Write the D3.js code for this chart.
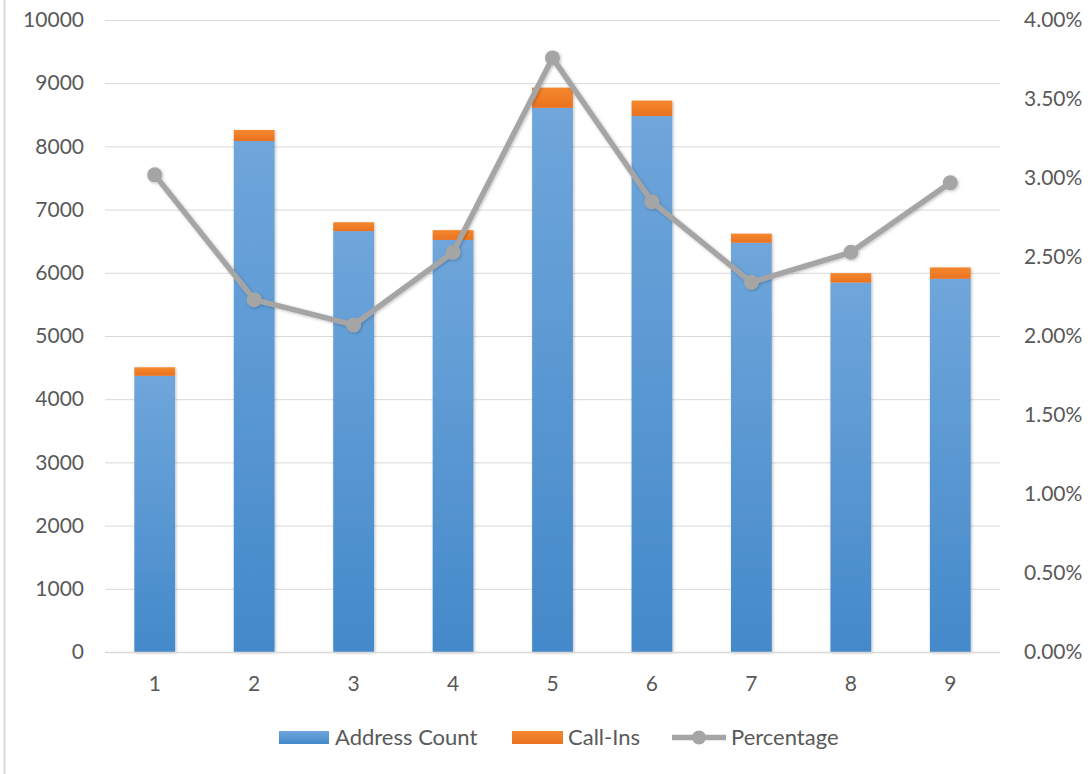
<!DOCTYPE html>
<html><head><meta charset="utf-8">
<script src="https://cdn.jsdelivr.net/npm/d3@7"></script>
<style>
html,body{margin:0;padding:0;background:#fff;}
svg{display:block;font-family:Lato,"Open Sans",sans-serif;}
</style></head>
<body>
<svg id="chart" width="1091" height="774"></svg>
<script>
const categories = ["1","2","3","4","5","6","7","8","9"];
const addressCount = [4370, 8085, 6660, 6520, 8610, 8480, 6475, 5845, 5905];
const callIns = [135, 175, 140, 155, 320, 245, 145, 150, 180];
const percentage = [0.0302, 0.0223, 0.0207, 0.0253, 0.0376, 0.0285, 0.0234, 0.0253, 0.0297];
const leftTicks = [0,1000,2000,3000,4000,5000,6000,7000,8000,9000,10000];
const rightTicks = [0,0.005,0.01,0.015,0.02,0.025,0.03,0.035,0.04];

const svg = d3.select("#chart");
const W = 1091, H = 774;
const m = {left:105, right:91, top:20, bottom:122};
const pw = W - m.left - m.right, ph = H - m.top - m.bottom;
const FONT = "Lato,'Open Sans',sans-serif";

const defs = svg.append("defs");
const grad = defs.append("linearGradient").attr("id","blueGrad").attr("x1",0).attr("y1",0).attr("x2",0).attr("y2",1);
grad.append("stop").attr("offset","0%").attr("stop-color","#6fa6db");
grad.append("stop").attr("offset","100%").attr("stop-color","#4489ca");
const ograd = defs.append("linearGradient").attr("id","orGrad").attr("x1",0).attr("y1",0).attr("x2",0).attr("y2",1);
ograd.append("stop").attr("offset","0%").attr("stop-color","#f4882e");
ograd.append("stop").attr("offset","100%").attr("stop-color","#ea7220");
const sh = defs.append("filter").attr("id","shadow").attr("x","-20%").attr("y","-20%").attr("width","140%").attr("height","140%");
sh.append("feDropShadow").attr("dx",1).attr("dy",1).attr("stdDeviation",1.5).attr("flood-color","#000").attr("flood-opacity",0.25);

// left border
svg.append("line").attr("x1",4.5).attr("x2",4.5).attr("y1",0).attr("y2",H).attr("stroke","#d9d9d9").attr("stroke-width",2);

const x = d3.scaleBand().domain(categories).range([m.left, m.left+pw]).paddingInner(0.59).paddingOuter(0.295);
const y = d3.scaleLinear().domain([0,10000]).range([m.top+ph, m.top]);
const y2 = d3.scaleLinear().domain([0,0.04]).range([m.top+ph, m.top]);

// gridlines
svg.append("g").selectAll("line").data(leftTicks.slice(1)).join("line")
  .attr("x1",m.left).attr("x2",m.left+pw)
  .attr("y1",d=>y(d)+0.5).attr("y2",d=>y(d)+0.5)
  .attr("stroke","#d9d9d9").attr("stroke-width",1);

// left axis
const la = svg.append("g").attr("transform",`translate(${m.left-21},0)`)
  .call(d3.axisLeft(y).tickValues(leftTicks).tickSize(0).tickPadding(0).tickFormat(d3.format("d")));
la.select(".domain").remove();
la.selectAll("text").attr("font-size",21).attr("fill","#595959").attr("font-family",FONT);

// right axis
const ra = svg.append("g").attr("transform",`translate(${m.left+pw+24},0)`)
  .call(d3.axisRight(y2).tickValues(rightTicks).tickSize(0).tickPadding(0).tickFormat(d3.format(".2%")));
ra.select(".domain").remove();
ra.selectAll("text").attr("font-size",21).attr("fill","#595959").attr("font-family",FONT);

// bars
const bars = svg.append("g").attr("filter","url(#shadow)");
bars.selectAll("rect.a").data(categories).join("rect").attr("class","a")
  .attr("x",d=>x(d)).attr("width",x.bandwidth())
  .attr("y",(d,i)=>y(addressCount[i])).attr("height",(d,i)=>y(0)-y(addressCount[i]))
  .attr("fill","url(#blueGrad)");
bars.selectAll("rect.c").data(categories).join("rect").attr("class","c")
  .attr("x",d=>x(d)).attr("width",x.bandwidth())
  .attr("y",(d,i)=>y(addressCount[i]+callIns[i])).attr("height",(d,i)=>y(addressCount[i])-y(addressCount[i]+callIns[i]))
  .attr("fill","url(#orGrad)");

// x axis line
svg.append("line").attr("x1",m.left).attr("x2",m.left+pw).attr("y1",y(0)+0.5).attr("y2",y(0)+0.5)
  .attr("stroke","#d9d9d9").attr("stroke-width",1.5);
const xa = svg.append("g").attr("transform",`translate(0,${y(0)+24})`)
  .call(d3.axisBottom(x).tickSize(0).tickPadding(0));
xa.select(".domain").remove();
xa.selectAll("text").attr("font-size",21).attr("fill","#595959").attr("font-family",FONT);

// line
const cx = d=>x(d)+x.bandwidth()/2;
const lg = svg.append("g").attr("filter","url(#shadow)");
lg.append("path").datum(categories)
  .attr("d", d3.line().x(d=>cx(d)).y((d,i)=>y2(percentage[i])))
  .attr("fill","none").attr("stroke","#a5a5a5").attr("stroke-width",5.5).attr("stroke-linejoin","round");
lg.selectAll("circle").data(categories).join("circle")
  .attr("cx",cx).attr("cy",(d,i)=>y2(percentage[i])).attr("r",7.5).attr("fill","#a5a5a5");

// legend
const leg = svg.append("g").attr("font-family",FONT).attr("font-size",22).attr("fill","#595959");
const ly = 737;
leg.append("rect").attr("x",279).attr("y",ly-6).attr("width",50).attr("height",13).attr("fill","url(#blueGrad)");
leg.append("text").attr("x",335).attr("y",ly).attr("dy","0.35em").text("Address Count");
leg.append("rect").attr("x",512).attr("y",ly-6).attr("width",51).attr("height",13).attr("fill","url(#orGrad)");
leg.append("text").attr("x",568).attr("y",ly).attr("dy","0.35em").text("Call-Ins");
leg.append("line").attr("x1",672).attr("x2",726).attr("y1",ly+0.5).attr("y2",ly+0.5).attr("stroke","#a5a5a5").attr("stroke-width",5.5);
leg.append("circle").attr("cx",699).attr("cy",ly+0.5).attr("r",7).attr("fill","#a5a5a5");
leg.append("text").attr("x",731).attr("y",ly).attr("dy","0.35em").text("Percentage");
</script>
</body></html>
